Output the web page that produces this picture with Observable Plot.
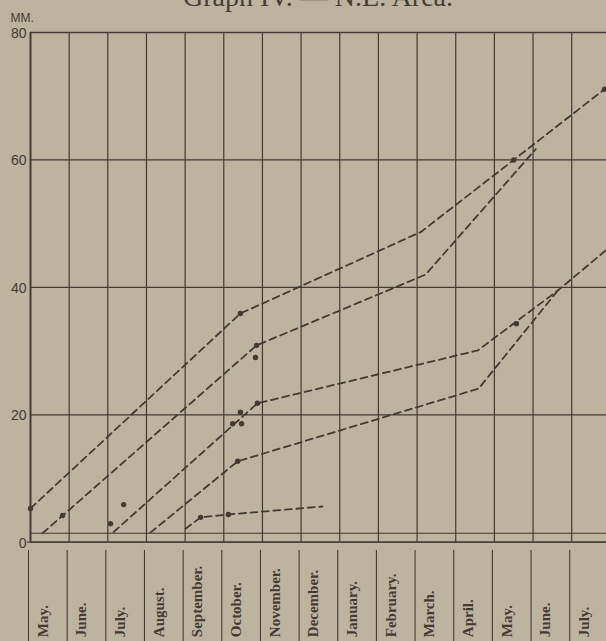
<!DOCTYPE html>
<html>
<head>
<meta charset="utf-8">
<script src="https://cdn.jsdelivr.net/npm/d3@7"></script>
<script src="https://cdn.jsdelivr.net/npm/@observablehq/plot@0.6"></script>
<style>
  html, body { margin: 0; padding: 0; background: #bdb4a0; }
  #wrap { position: relative; width: 606px; height: 641px; overflow: hidden; background: #bdb4a0; }
  #title { position: absolute; left: 0; width: 636px; top: -17px; text-align: center;
           font-family: "Liberation Serif", "DejaVu Serif", serif; font-size: 28px; line-height: 28px; color: #463e35; }
  #chart { position: absolute; left: 0; top: 0; }
</style>
</head>
<body>
<div id="wrap">
  <div id="title">Graph IV. — N.E. Area.</div>
  <div id="chart"></div>
</div>
<script>
// Month labels along the bottom (one column per month, starting May)
const months = ["May.","June.","July.","August.","September.","October.","November.","December.","January.","February.","March.","April.","May.","June.","July."];
const yTicks = [0, 20, 40, 60, 80];
const monthBoundaries = [0,1,2,3,4,5,6,7,8,9,10,11,12,13,14,15];
const innerBaseline = [1.4];

// Growth curves: [month offset from start of May, size in mm]
const series1 = [[0, 5.3], [5.43, 35.9], [10.1, 48.7], [12.5, 60.0], [14.85, 71.1]];
const series2 = [[0.31, 1.4], [5.85, 30.9], [10.22, 42.0], [13.07, 61.7]];
const series3 = [[2.15, 1.6], [5.87, 21.8], [11.57, 30.1], [13.64, 39.5], [14.9, 45.9]];
const series4 = [[3.10, 1.5], [5.36, 12.7], [11.59, 24.1], [13.64, 39.5]];
const series5 = [[4.01, 2.1], [4.40, 3.9], [5.12, 4.35], [7.55, 5.6]];

// Observed points
const dots = [[0, 5.3], [0.83, 4.2], [2.07, 2.9], [2.41, 5.9], [4.40, 3.9], [5.12, 4.35],
              [5.43, 35.9], [5.85, 30.9], [5.82, 29.0], [5.23, 18.6], [5.46, 18.6], [5.43, 20.4],
              [5.87, 21.8], [5.36, 12.7], [12.5, 60.0], [12.57, 34.3], [14.85, 71.1]];

const ink = "#433b32";
const allSeries = [series1, series2, series3, series4, series5];
const lineData = allSeries.flatMap((s, k) => s.map(([m, v]) => ({m, v, k})));

const chart = Plot.plot({
  width: 606,
  height: 641,
  marginTop: 32,
  marginBottom: 99.3,
  marginLeft: 30,
  marginRight: 0,
  x: {domain: [0, 14.9], axis: null},
  y: {domain: [0, 80], axis: null},
  style: {background: "transparent", overflow: "visible"},
  marks: [
    // grid
    Plot.ruleX(monthBoundaries.slice(1), {y1: 0, y2: 80, stroke: ink, strokeWidth: 1.2}),
    Plot.ruleX([0], {y1: 0, y2: 80, stroke: ink, strokeWidth: 2}),
    Plot.ruleY(yTicks, {x1: 0, x2: 15, stroke: ink, strokeWidth: 1.3}),
    Plot.ruleY([0], {x1: 0, x2: 15, stroke: ink, strokeWidth: 1.3, dx: -3}),
    Plot.ruleY(innerBaseline, {x1: 0, x2: 15, stroke: ink, strokeWidth: 1.1}),
    // bottom label columns
    Plot.ruleX(monthBoundaries, {y1: -1.3, y2: -16, stroke: ink, strokeWidth: 1.1, dx: -2}),
    // y labels
    Plot.text(yTicks, {frameAnchor: "left", y: d => d, text: d => String(d), dx: -4, dy: 1, textAnchor: "end",
      fontFamily: "Liberation Sans", fontSize: 14, fill: ink}),
    Plot.text(["MM."], {frameAnchor: "top-left", dx: -20, dy: -19, textAnchor: "start",
      fontFamily: "Liberation Sans", fontSize: 12, fill: ink, letterSpacing: "1.5px"}),
    // month labels
    Plot.text(months, {x: (d, i) => i + 0.5, frameAnchor: "bottom", dy: 95, rotate: -90, textAnchor: "start",
      fontFamily: "Liberation Serif", fontSize: 15, fontWeight: 600, fill: ink, dx: -2}),
    // growth lines
    Plot.line(lineData, {x: "m", y: "v", z: "k", stroke: ink, strokeWidth: 1.8, strokeDasharray: "7,4.5"}),
    // dots
    Plot.dot(dots, {x: d => d[0], y: d => d[1], r: 2.7, fill: ink, stroke: "none"})
  ]
});
document.getElementById("chart").appendChild(chart);
</script>
</body>
</html>
